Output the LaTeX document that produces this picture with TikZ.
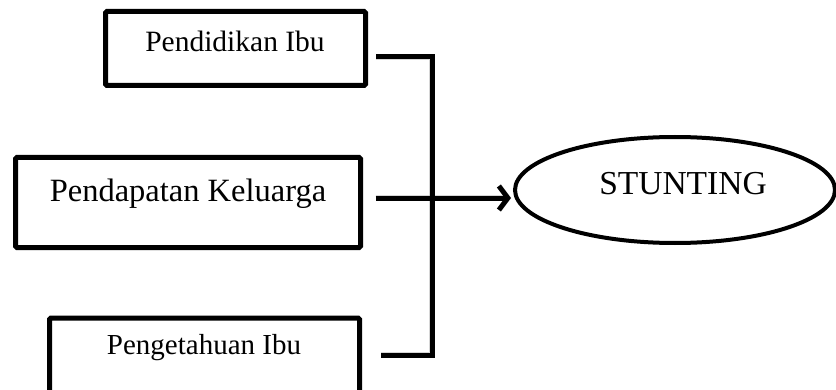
\documentclass[tikz,border=0pt]{standalone}
\usepackage{fontspec}
\setmainfont{Liberation Serif}
\usetikzlibrary{shapes.geometric,arrows.meta,calc}
\begin{document}
\begin{tikzpicture}[x=1pt,y=1pt,
  factorbox/.style={draw=black,line width=5pt,rounded corners=1.5pt,inner sep=0pt},
  outcome/.style={draw=black,line width=4pt,ellipse,inner sep=0pt,
    minimum width=320pt,minimum height=106pt},
  link/.style={draw=black,line width=5pt},
  linkshadow/.style={draw=black!45,line width=5.5pt,opacity=0.35},
  lbl/.style={anchor=base,inner sep=0pt}]
\clip (0,0) rectangle (836,389);
\fill[white] (0,0) rectangle (836,389);

% factor boxes
\node[factorbox,minimum width=260pt,minimum height=74pt] (b1) at (235.5,340.5) {};
\node[factorbox,minimum width=345pt,minimum height=90pt] (b2) at (188,186.5) {};
\node[factorbox,minimum width=310pt,minimum height=76pt] (b3) at (204.5,33) {};
\node[lbl,font=\fontsize{29.5}{34}\selectfont] (t1) at (235,337) {Pendidikan Ibu};
\node[lbl,font=\fontsize{32.5}{37}\selectfont] (t2) at (188,187) {Pendapatan Keluarga};
\node[lbl,font=\fontsize{29}{34}\selectfont] (t3) at (204,35) {Pengetahuan Ibu};

% outcome
\node[outcome] (st) at (675,199) {};
\node[lbl,font=\fontsize{33.5}{38}\selectfont] (ts) at (683,195) {STUNTING};

% connector geometry
\coordinate (s1) at ($(b1.east)+(8,-8.5)$);
\coordinate (s3) at ($(b3.east)+(19,1)$);
\coordinate (bar1) at (432,0 |- s1);
\coordinate (bar3) at (432,0 |- s3);
\coordinate (s2) at ($(b2.east)+(12.5,4.5)$);

% soft shadow under the connectors
\begin{scope}[shift={(2,-2)}]
\draw[linkshadow] (s1) -- (bar1) -- (bar3) -- (s3);
\draw[linkshadow] (s2) -- ($(st.west)+(-8,-8)$);
\end{scope}

% connectors
\draw[link,line join=miter] (s1) -- (bar1) -- (bar3) -- (s3);
\draw[link,-{Straight Barb[length=9pt,width=24pt,line width=5pt]}]
  (s2) -- ($(st.west |- s2)+(-2,0)$);
\end{tikzpicture}
\end{document}
